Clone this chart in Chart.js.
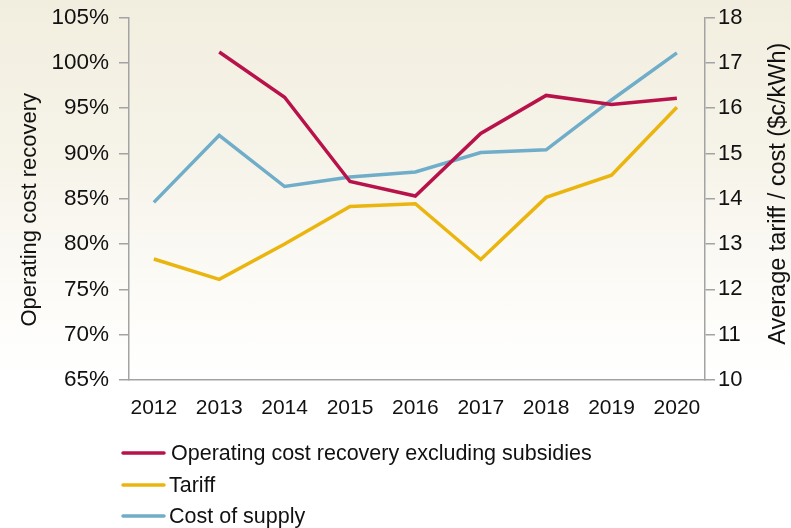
<!DOCTYPE html>
<html>
<head>
<meta charset="utf-8">
<script src="https://cdn.jsdelivr.net/npm/chart.js@4"></script>
<style>
  html, body {
    margin: 0;
    padding: 0;
  }
  body {
    width: 791px;
    height: 528px;
    background: linear-gradient(to bottom, #f2eedf 0%, #f6f3e9 30%, #fcfbf7 55%, #ffffff 72%);
  }
  canvas {
    display: block;
  }
</style>
</head>
<body>
<canvas id="recoveryChart" width="791" height="528"></canvas>
<script>
// years on the x axis
const years = [2012, 2013, 2014, 2015, 2016, 2017, 2018, 2019, 2020];

// operating cost recovery excluding subsidies, % (left axis), no value for 2012
const recovery = [null, 101.2, 96.2, 86.9, 85.3, 92.2, 96.4, 95.4, 96.1];

// average tariff, c/kWh (right axis)
const tariff = [12.67, 12.22, 13.0, 13.83, 13.89, 12.66, 14.03, 14.52, 16.02];

// cost of supply, c/kWh (right axis)
const costOfSupply = [13.92, 15.4, 14.27, 14.48, 14.59, 15.02, 15.08, 16.18, 17.22];

const leftTicks = [65, 70, 75, 80, 85, 90, 95, 100, 105];
const rightTicks = [10, 11, 12, 13, 14, 15, 16, 17, 18];

const leftTitle = 'Operating cost recovery';
const rightTitle = 'Average tariff / cost ($c/kWh)';

const FONT = "'Liberation Sans', Arial, sans-serif";
const AXIS_GREY = '#a3a3a3';
const TEXT = '#111';

function toPoints(values) {
    return years.map((yr, i) => ({ x: yr, y: values[i] }));
}

// fixed box for a vertical axis; the top label may sit above the plot
function fitVertical(width) {
    return (scale) => {
        scale.width = width;
        scale.paddingTop = 0;
        scale.paddingBottom = 0;
    };
}

// both axis titles read bottom-to-top, so draw them by hand
const axisTitles = {
    id: 'axisTitles',
    afterDraw(chart) {
        const { ctx, chartArea } = chart;
        const midY = (chartArea.top + chartArea.bottom) / 2;
        ctx.save();
        ctx.fillStyle = TEXT;
        ctx.textAlign = 'center';

        ctx.save();
        ctx.translate(36, midY + 11);
        ctx.rotate(-Math.PI / 2);
        ctx.font = '22px ' + FONT;
        ctx.textBaseline = 'alphabetic';
        ctx.fillText(leftTitle, 0, 0);
        ctx.restore();

        ctx.save();
        ctx.translate(785, midY - 5);
        ctx.rotate(-Math.PI / 2);
        ctx.font = '23.5px ' + FONT;
        ctx.textBaseline = 'alphabetic';
        ctx.fillText(rightTitle, 0, 0);
        ctx.restore();

        ctx.restore();
    },
};

// legend stacked under the chart, one row per series
const stackedLegend = {
    id: 'stackedLegend',
    afterDraw(chart) {
        const { ctx } = chart;
        const rowY = [453, 485, 516];
        ctx.save();
        chart.data.datasets.forEach((ds, i) => {
            const y = rowY[i];
            ctx.strokeStyle = ds.borderColor;
            ctx.lineWidth = 3.5;
            ctx.lineCap = 'round';
            ctx.beginPath();
            ctx.moveTo(123, y);
            ctx.lineTo(164, y);
            ctx.stroke();

            ctx.font = '21.5px ' + FONT;
            ctx.fillStyle = TEXT;
            ctx.textAlign = 'left';
            ctx.textBaseline = 'middle';
            ctx.fillText(ds.label, i === 0 ? 171 : 169, y + 1);
        });
        ctx.restore();
    },
};

const ctx = document.getElementById('recoveryChart').getContext('2d');

new Chart(ctx, {
    type: 'line',
    data: {
        datasets: [
            {
                label: 'Operating cost recovery excluding subsidies',
                data: toPoints(recovery),
                yAxisID: 'y',
                borderColor: '#b8124b',
                borderWidth: 3.5,
                pointRadius: 0,
                tension: 0,
            },
            {
                label: 'Tariff',
                data: toPoints(tariff),
                yAxisID: 'y1',
                borderColor: '#ebb50f',
                borderWidth: 3.5,
                pointRadius: 0,
                tension: 0,
            },
            {
                label: 'Cost of supply',
                data: toPoints(costOfSupply),
                yAxisID: 'y1',
                borderColor: '#6fadc9',
                borderWidth: 3.5,
                pointRadius: 0,
                tension: 0,
            },
        ],
    },
    options: {
        responsive: false,
        animation: false,
        maintainAspectRatio: false,
        layout: {
            padding: { top: 17.5, bottom: 0, left: 0, right: 0 },
        },
        plugins: {
            legend: { display: false },
            tooltip: { enabled: false },
        },
        scales: {
            x: {
                type: 'linear',
                min: 2011.62,
                max: 2020.43,
                afterBuildTicks: (scale) => {
                    scale.ticks = years.map((v) => ({ value: v }));
                },
                afterFit: (scale) => {
                    scale.height = 148;
                    scale.paddingLeft = 0;
                    scale.paddingRight = 0;
                },
                grid: { display: false, drawTicks: false },
                border: { display: true, color: AXIS_GREY, width: 1.5 },
                ticks: {
                    padding: 16,
                    maxRotation: 0,
                    autoSkip: false,
                    color: TEXT,
                    font: { family: FONT, size: 21 },
                    callback: (v) => String(v),
                },
            },
            y: {
                position: 'left',
                min: 65,
                max: 105,
                afterBuildTicks: (scale) => {
                    scale.ticks = leftTicks.map((v) => ({ value: v }));
                },
                afterFit: fitVertical(129),
                grid: {
                    drawOnChartArea: false,
                    drawTicks: true,
                    tickLength: 10,
                    color: AXIS_GREY,
                    lineWidth: 1.5,
                },
                border: { display: true, color: AXIS_GREY, width: 1.5 },
                ticks: {
                    padding: 10,
                    color: TEXT,
                    font: { family: FONT, size: 22.5 },
                    callback: (v) => v + '%',
                },
            },
            y1: {
                position: 'right',
                min: 10,
                max: 18,
                afterBuildTicks: (scale) => {
                    scale.ticks = rightTicks.map((v) => ({ value: v }));
                },
                afterFit: fitVertical(86),
                grid: {
                    drawOnChartArea: false,
                    drawTicks: true,
                    tickLength: 10,
                    color: AXIS_GREY,
                    lineWidth: 1.5,
                },
                border: { display: true, color: AXIS_GREY, width: 1.5 },
                ticks: {
                    padding: 3,
                    color: TEXT,
                    font: { family: FONT, size: 22 },
                },
            },
        },
    },
    plugins: [axisTitles, stackedLegend],
});
</script>
</body>
</html>
